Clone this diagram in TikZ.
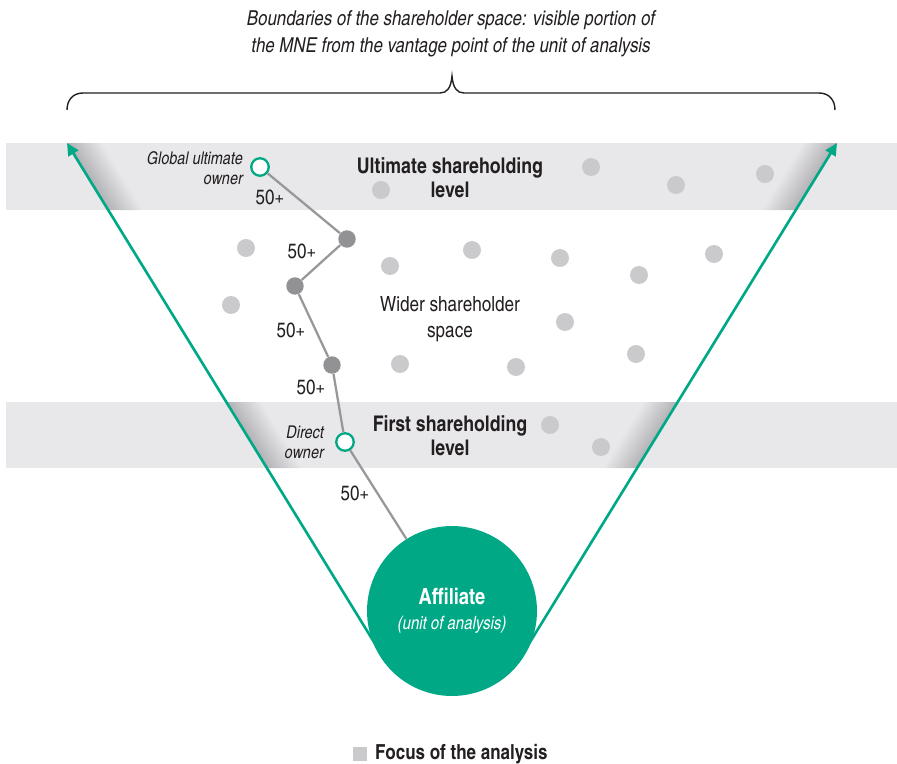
\documentclass[tikz,border=0pt]{standalone}
\usepackage{fontspec}
\setmainfont{texgyreheroscn}[Extension=.otf,UprightFont=*-regular,BoldFont=*-bold,ItalicFont=*-italic,BoldItalicFont=*-bolditalic]
\usetikzlibrary{arrows.meta}

\definecolor{vgreen}{HTML}{00A886}
\definecolor{band}{HTML}{E8E8EA}
\definecolor{fold}{HTML}{B2B2B6}
\definecolor{lightdot}{HTML}{CACACC}
\definecolor{darkdot}{HTML}{929295}
\definecolor{chainline}{HTML}{98989B}
\definecolor{txt}{HTML}{231F20}

\tikzset{
  ldot/.style={circle,fill=lightdot,inner sep=0pt,minimum size=3.6mm},
  ddot/.style={circle,fill=darkdot,inner sep=0pt,minimum size=3.5mm},
  owner/.style={circle,draw=vgreen,line width=1.3pt,fill=white,inner sep=0pt,minimum size=3.5mm},
  pct/.style={text=txt,font=\fontsize{11.8}{13}\selectfont},
  level/.style={text=txt,align=center,font=\bfseries\fontsize{12.3}{13.6}\selectfont},
  tag/.style={text=txt,align=right,anchor=east,font=\itshape\fontsize{10}{11.3}\selectfont},
  chain/.style={draw=chainline,line width=1.3pt},
  reach/.style={draw=vgreen,line width=1.5pt,-{Triangle[length=7pt,width=6.5pt]}}
}

\begin{document}
\begin{tikzpicture}[x=0.02cm,y=-0.02cm]
  \useasboundingbox (0,0) rectangle (897,764);

  % shareholding levels
  \fill[band] (6,143) rectangle (897,210);
  \fill[band] (6,402) rectangle (897,468);

  \coordinate (ltip) at (67,143);
  \coordinate (rtip) at (837,143);
  \coordinate (lfoot) at (385,660);
  \coordinate (rfoot) at (519,660);

  % folds of the bands along the boundaries
  \begin{scope}
    \clip (6,143) rectangle (897,210) (6,402) rectangle (897,468);
    \begin{scope}[transform canvas={shift={(ltip)},rotate=-58.45}]
      \shade[bottom color=fold,top color=band] (0,0) rectangle (14cm,0.6cm);
    \end{scope}
    \begin{scope}[transform canvas={shift={(rtip)},rotate=238.45}]
      \shade[top color=fold,bottom color=band] (0,0) rectangle (14cm,-0.6cm);
    \end{scope}
  \end{scope}

  % brace
  \coordinate (bl) at (67,110);
  \coordinate (bt) at (452,76);
  \coordinate (br) at (835,110);
  \draw[txt,line width=0.8pt] (bl) .. controls (67,100) and (73,93) .. (83,93) -- (440,93)
    .. controls (447,93) and (451,88) .. (bt) .. controls (453,88) and (457,93) .. (464,93)
    -- (819,93) .. controls (829,93) and (835,100) .. (br);

  \node[text=txt,align=center,font=\itshape\fontsize{11.7}{15.3}\selectfont] (ttl) at (451,34)
    {Boundaries of the shareholder space: visible portion of\\the MNE from the vantage point of the unit of analysis};

  % other shareholders
  \node[ldot] (s1) at (381,190) {};
  \node[ldot] (s2) at (591,167) {};
  \node[ldot] (s3) at (676,185) {};
  \node[ldot] (s4) at (765,174) {};
  \node[ldot] (s5) at (246,248) {};
  \node[ldot] (s6) at (390,266) {};
  \node[ldot] (s7) at (472,250) {};
  \node[ldot] (s8) at (560,258) {};
  \node[ldot] (s9) at (639,275) {};
  \node[ldot] (s10) at (714,254) {};
  \node[ldot] (s11) at (231,305) {};
  \node[ldot] (s12) at (565,322) {};
  \node[ldot] (s13) at (400,364) {};
  \node[ldot] (s14) at (516,367) {};
  \node[ldot] (s15) at (636,354) {};
  \node[ldot] (s16) at (550,425) {};
  \node[ldot] (s17) at (601,447) {};

  % boundaries
  \draw[reach] (lfoot) -- (ltip);
  \draw[reach] (rfoot) -- (rtip);

  \node[level] (ult) at (450,178) {Ultimate shareholding\\level};
  \node[text=txt,align=center,font=\fontsize{11.9}{14.7}\selectfont] (wide) at (450,319) {Wider shareholder\\space};
  \node[level] (first) at (450,436) {First shareholding\\level};

  % ownership chain
  \node[owner] (guo) at (260,167) {};
  \node[ddot] (o1) at (347,239) {};
  \node[ddot] (o2) at (295,286) {};
  \node[ddot] (o3) at (332,365) {};
  \node[owner] (dow) at (345,442) {};
  \node[circle,fill=vgreen,minimum size=3.4cm,inner sep=0pt,text=white,align=center,
    font=\fontsize{10.4}{14.2}\selectfont] (aff) at (452,611)
    {{\bfseries\fontsize{12.7}{14.2}\selectfont Affiliate}\\{\itshape (unit of analysis)}};
  \draw[chain] (guo) -- (o1) -- (o2) -- (o3) -- (dow) -- (aff);

  \node[tag] (gtag) at (249,168) {Global ultimate\\owner};
  \node[tag] (dtag) at (330,442) {Direct\\owner};

  \node[pct] (p1) at (270,197) {50+};
  \node[pct] (p2) at (302,251) {50+};
  \node[pct] (p3) at (291,330) {50+};
  \node[pct] (p4) at (311,387) {50+};
  \node[pct] (p5) at (355,493) {50+};

  % legend
  \node[fill=lightdot,inner sep=0pt,minimum size=2.8mm] (legbox) at (360,754) {};
  \node[anchor=west,text=txt,font=\bfseries\fontsize{11.8}{13}\selectfont] (leg) at (369,754) {Focus of the analysis};
\end{tikzpicture}
\end{document}
